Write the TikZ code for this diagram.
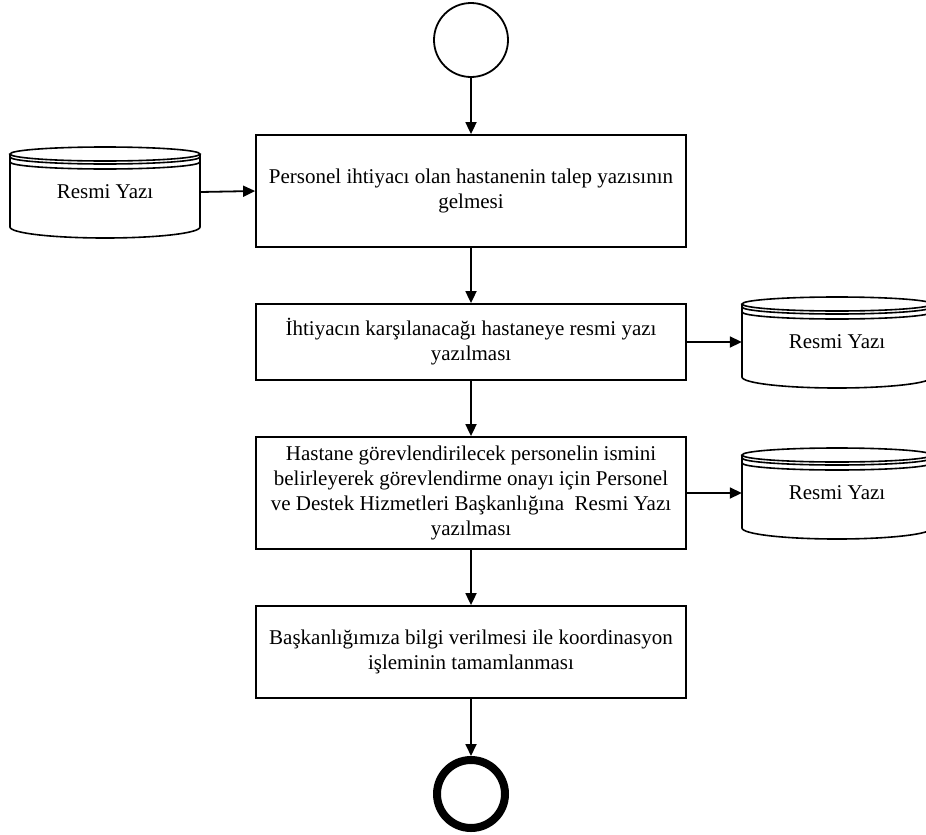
\documentclass[tikz,border=0pt]{standalone}
\usepackage{fontspec}
\setmainfont{Liberation Serif}
\usetikzlibrary{arrows.meta,calc}

% Data-store symbol (stacked cylinder) drawn around a named node
\newcommand\storedraw[1]{%
  \draw[storeline] ($(#1)+(0,-38)$) ellipse [x radius=95pt, y radius=7pt];
  \foreach \d in {3,8} {
    \draw[storeline] ($(#1)+(-95,-38+\d)$) .. controls +(0,3.87) and +(-52.5,0) .. ($(#1)+(0,-31+\d)$)
      .. controls +(52.5,0) and +(0,3.87) .. ($(#1)+(95,-38+\d)$);
  }
  \draw[storeline] ($(#1)+(-95,-38)$) -- ($(#1)+(-95,35)$)
    .. controls +(0,6.1) and +(-52.5,0) .. ($(#1)+(0,46)$)
    .. controls +(52.5,0) and +(0,6.1) .. ($(#1)+(95,35)$) -- ($(#1)+(95,-38)$);
}

\begin{document}
\begin{tikzpicture}[x=1pt,y=-1pt,
  every node/.style={font=\fontsize{21}{25}\selectfont},
  proc/.style={draw, line width=1.8pt, minimum width=430pt, align=center, inner sep=0pt},
  store/.style={minimum width=190pt, minimum height=80pt, inner sep=0pt},
  flow/.style={line width=1.8pt, -{Triangle[length=12pt,width=11pt]}},
  storeline/.style={line width=1.6pt},
  startev/.style={circle, draw, line width=1.8pt, minimum size=74pt, inner sep=0pt},
  endev/.style={circle, draw, line width=8pt, minimum size=68pt, inner sep=0pt}]

\useasboundingbox (0,0) rectangle (926,835);
\clip (0,0) rectangle (926,835);

% events
\node[startev] (start) at (471,40) {};
\node[endev] (end) at (471,794) {};

% process steps
\node[proc, minimum height=112pt] (p1) at (471,191)
  {Personel ihtiyacı olan hastanenin talep yazısının\\gelmesi};
\node[proc, minimum height=76pt] (p2) at (471,342)
  {İhtiyacın karşılanacağı hastaneye resmi yazı\\yazılması};
\node[proc, minimum height=112pt] (p3) at (471,493)
  {Hastane görevlendirilecek personelin ismini\\belirleyerek görevlendirme onayı için Personel\\ve Destek Hizmetleri Başkanlığına\ \ Resmi Yazı\\yazılması};
\node[proc, minimum height=92pt] (p4) at (471,652)
  {Başkanlığımıza bilgi verilmesi ile koordinasyon\\işleminin tamamlanması};

% documents
\node[store] (s1) at (105,192) {Resmi Yazı};
\node[store] (s2) at (837,342) {Resmi Yazı};
\node[store] (s3) at (837,493) {Resmi Yazı};
\storedraw{s1}
\storedraw{s2}
\storedraw{s3}

% flow
\draw[flow] (start) -- (p1);
\draw[flow] (p1) -- (p2);
\draw[flow] (p2) -- (p3);
\draw[flow] (p3) -- (p4);
\draw[flow] (p4) -- (end);
\draw[flow] (s1.east) -- (p1.west);
\draw[flow] (p2.east) -- (s2.west);
\draw[flow] (p3.east) -- (s3.west);
\end{tikzpicture}
\end{document}
